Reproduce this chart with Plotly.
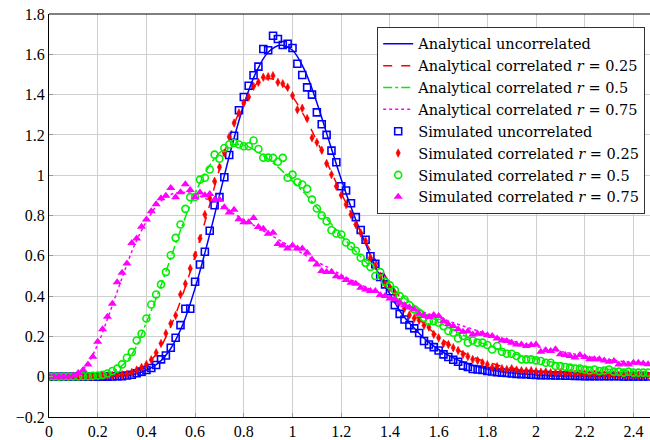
import plotly.graph_objects as go

# Analytical curves sampled every 0.05
AN_X = [0.00, 0.05, 0.10, 0.15, 0.20, 0.25, 0.30, 0.35, 0.40, 0.45,
        0.50, 0.55, 0.60, 0.65, 0.70, 0.75, 0.80, 0.85, 0.90, 0.95,
        1.00, 1.05, 1.10, 1.15, 1.20, 1.25, 1.30, 1.35, 1.40, 1.45,
        1.50, 1.55, 1.60, 1.65, 1.70, 1.75, 1.80, 1.85, 1.90, 1.95,
        2.00, 2.05, 2.10, 2.15, 2.20, 2.25, 2.30, 2.35, 2.40, 2.45]
AN_UNCORR = [0, 0, 0, 0, 0, 0.0005, 0.003, 0.012, 0.032, 0.068,
             0.14, 0.26, 0.44, 0.66, 0.90, 1.14, 1.35, 1.51, 1.61, 1.645,
             1.62, 1.52, 1.36, 1.17, 0.98, 0.81, 0.66, 0.52, 0.41, 0.31,
             0.24, 0.18, 0.135, 0.10, 0.073, 0.053, 0.038, 0.027, 0.019, 0.013,
             0.009, 0.006, 0.004, 0.003, 0.002, 0.0015, 0.001, 0.0007, 0.0005, 0.0003]
AN_R025 = [0, 0, 0, 0, 0.001, 0.004, 0.01, 0.025, 0.058, 0.13,
           0.25, 0.41, 0.60, 0.81, 1.03, 1.22, 1.36, 1.45, 1.48, 1.46,
           1.39, 1.29, 1.17, 1.04, 0.91, 0.79, 0.67, 0.56, 0.465, 0.38,
           0.31, 0.25, 0.20, 0.155, 0.12, 0.093, 0.072, 0.055, 0.043, 0.034,
           0.026, 0.021, 0.017, 0.013, 0.011, 0.009, 0.007, 0.0055, 0.0045, 0.0035]
AN_R050 = [0, 0, 0.0005, 0.002, 0.006, 0.02, 0.055, 0.13, 0.27, 0.42,
           0.59, 0.76, 0.91, 1.03, 1.11, 1.15, 1.15, 1.12, 1.08, 1.03,
           0.97, 0.91, 0.84, 0.77, 0.70, 0.635, 0.57, 0.51, 0.455, 0.40,
           0.355, 0.31, 0.272, 0.238, 0.207, 0.18, 0.156, 0.135, 0.117, 0.101,
           0.088, 0.076, 0.065, 0.056, 0.048, 0.042, 0.036, 0.031, 0.027, 0.023]
AN_R075 = [0, 0.0005, 0.008, 0.05, 0.16, 0.32, 0.49, 0.65, 0.77, 0.86,
           0.905, 0.915, 0.905, 0.88, 0.85, 0.815, 0.78, 0.745, 0.71, 0.675,
           0.64, 0.605, 0.57, 0.54, 0.505, 0.475, 0.445, 0.415, 0.39, 0.365,
           0.34, 0.315, 0.295, 0.272, 0.252, 0.232, 0.21, 0.194, 0.178, 0.163,
           0.15, 0.137, 0.125, 0.114, 0.103, 0.094, 0.085, 0.077, 0.07, 0.064]

# Simulated points every 0.02 (x = 0.00 ... 2.46)
SIM_X = [round(0.02 * i, 2) for i in range(124)]
SIM_UNCORR = [0, 0, 0, 0, 0, 0, 0, 0, 0, 0,
              0, 0, 0.0005, 0.001, 0.002, 0.003, 0.006, 0.01, 0.017, 0.025,
              0.033, 0.043, 0.058, 0.086, 0.105, 0.144, 0.193, 0.256, 0.337, 0.337,
              0.471, 0.557, 0.62, 0.724, 0.851, 0.891, 0.99, 1.10, 1.196, 1.322,
              1.388, 1.444, 1.496, 1.539, 1.626, 1.620, 1.692, 1.676, 1.646, 1.652,
              1.631, 1.553, 1.497, 1.436, 1.40, 1.312, 1.253, 1.20, 1.122, 1.064,
              0.945, 0.924, 0.861, 0.792, 0.728, 0.680, 0.598, 0.560, 0.495, 0.458,
              0.424, 0.355, 0.312, 0.284, 0.256, 0.24, 0.217, 0.177, 0.16, 0.147,
              0.13, 0.111, 0.098, 0.084, 0.074, 0.055, 0.048, 0.038, 0.036, 0.033,
              0.028, 0.026, 0.022, 0.02, 0.018, 0.016, 0.014, 0.013, 0.012, 0.01,
              0.009, 0.008, 0.008, 0.007, 0.006, 0.006, 0.005, 0.005, 0.004, 0.004,
              0.003, 0.003, 0.003, 0.002, 0.002, 0.002, 0.002, 0.002, 0.001, 0.001,
              0.001, 0.001, 0.001, 0.001]
SIM_R025 = [0, 0, 0, 0, 0, 0, 0, 0, 0, 0,
            0.002, 0.003, 0.004, 0.006, 0.008, 0.01, 0.013, 0.021, 0.033, 0.046,
            0.061, 0.084, 0.119, 0.165, 0.215, 0.264, 0.304, 0.408, 0.461, 0.537,
            0.603, 0.686, 0.805, 0.887, 0.970, 1.04, 1.11, 1.19, 1.259, 1.309,
            1.358, 1.388, 1.441, 1.461, 1.486, 1.489, 1.494, 1.461, 1.454, 1.436,
            1.395, 1.325, 1.332, 1.281, 1.185, 1.163, 1.124, 1.058, 1.003, 0.945,
            0.901, 0.854, 0.805, 0.755, 0.714, 0.674, 0.59, 0.55, 0.50, 0.46,
            0.44, 0.41, 0.37, 0.34, 0.306, 0.29, 0.28, 0.255, 0.246, 0.21,
            0.193, 0.165, 0.16, 0.144, 0.13, 0.111, 0.10, 0.086, 0.08, 0.069,
            0.06, 0.045, 0.05, 0.04, 0.036, 0.04, 0.033, 0.03, 0.028, 0.03,
            0.025, 0.022, 0.024, 0.02, 0.018, 0.02, 0.015, 0.016, 0.013, 0.015,
            0.012, 0.01, 0.012, 0.009, 0.01, 0.008, 0.009, 0.007, 0.006, 0.008,
            0.005, 0.006, 0.004, 0.005]
SIM_R050 = [0, 0.001, 0, 0.001, 0.001, 0.001, 0.001, 0.002, 0.002, 0.004,
            0.006, 0.01, 0.016, 0.028, 0.04, 0.061, 0.094, 0.122, 0.18, 0.213,
            0.289, 0.358, 0.408, 0.458, 0.519, 0.603, 0.689, 0.755, 0.833, 0.891,
            0.892, 0.978, 0.987, 1.028, 1.102, 1.082, 1.135, 1.152, 1.16, 1.152,
            1.144, 1.144, 1.172, 1.13, 1.087, 1.087, 1.086, 1.067, 1.086, 0.987,
            1.003, 0.965, 0.954, 0.932, 0.879, 0.835, 0.80, 0.772, 0.727, 0.711,
            0.706, 0.666, 0.648, 0.625, 0.59, 0.565, 0.545, 0.50, 0.519, 0.471,
            0.453, 0.43, 0.40, 0.383, 0.355, 0.334, 0.317, 0.292, 0.276, 0.276,
            0.268, 0.251, 0.227, 0.218, 0.19, 0.202, 0.169, 0.18, 0.169, 0.169,
            0.157, 0.135, 0.152, 0.124, 0.114, 0.114, 0.103, 0.086, 0.086, 0.086,
            0.081, 0.078, 0.069, 0.069, 0.053, 0.053, 0.048, 0.045, 0.041, 0.041,
            0.036, 0.031, 0.036, 0.028, 0.031, 0.036, 0.025, 0.025, 0.02, 0.025,
            0.02, 0.02, 0.02, 0.02]
SIM_R075 = [0.001, 0.001, 0.001, 0.001, 0.001, 0.006, 0.018, 0.033, 0.06, 0.099,
            0.174, 0.235, 0.297, 0.362, 0.469, 0.516, 0.562, 0.664, 0.686, 0.744,
            0.78, 0.821, 0.856, 0.886, 0.898, 0.936, 0.89, 0.916, 0.955, 0.926,
            0.89, 0.914, 0.90, 0.907, 0.878, 0.879, 0.841, 0.815, 0.829, 0.782,
            0.766, 0.766, 0.788, 0.743, 0.734, 0.709, 0.714, 0.659, 0.651, 0.636,
            0.651, 0.636, 0.636, 0.615, 0.582, 0.557, 0.524, 0.52, 0.52, 0.499,
            0.494, 0.48, 0.466, 0.461, 0.441, 0.433, 0.425, 0.425, 0.405, 0.40,
            0.388, 0.383, 0.367, 0.355, 0.345, 0.334, 0.312, 0.301, 0.296, 0.306,
            0.301, 0.276, 0.26, 0.251, 0.235, 0.223, 0.226, 0.21, 0.213, 0.213,
            0.206, 0.202, 0.19, 0.18, 0.177, 0.169, 0.16, 0.16, 0.152, 0.157,
            0.16, 0.124, 0.131, 0.128, 0.136, 0.111, 0.108, 0.103, 0.095, 0.108,
            0.098, 0.086, 0.086, 0.086, 0.081, 0.074, 0.078, 0.061, 0.064, 0.061,
            0.069, 0.069, 0.065, 0.062]

NAMES = ["Analytical uncorrelated",
         "Analytical correlated <i>r</i> = 0.25",
         "Analytical correlated <i>r</i> = 0.5",
         "Analytical correlated <i>r</i> = 0.75",
         "Simulated uncorrelated",
         "Simulated correlated <i>r</i> = 0.25",
         "Simulated correlated <i>r</i> = 0.5",
         "Simulated correlated <i>r</i> = 0.75"]

BLUE = "#0000ff"
RED = "#ff0000"
GREEN = "#00ee00"
MAGENTA = "#ff00ff"

fig = go.Figure()
for y, col, dash, name in [(AN_UNCORR, BLUE, "solid", NAMES[0]),
                           (AN_R025, RED, "dash", NAMES[1]),
                           (AN_R050, GREEN, "dashdot", NAMES[2]),
                           (AN_R075, MAGENTA, "dot", NAMES[3])]:
    fig.add_trace(go.Scatter(x=AN_X, y=y, mode="lines", name=name,
                             line=dict(color=col, width=1.5, dash=dash, shape="spline")))

marker_specs = [
    (SIM_UNCORR, dict(symbol="square-open", size=7, color=BLUE, line=dict(width=1.6, color=BLUE)), NAMES[4]),
    (SIM_R025, dict(symbol="diamond-tall", size=6, color=RED, line=dict(width=0.6, color=RED)), NAMES[5]),
    (SIM_R050, dict(symbol="circle-open", size=7, color=GREEN, line=dict(width=1.6, color=GREEN)), NAMES[6]),
    (SIM_R075, dict(symbol="triangle-up", size=8, color=MAGENTA, line=dict(width=0, color=MAGENTA)), NAMES[7]),
]
for y, mk, name in marker_specs:
    fig.add_trace(go.Scatter(x=SIM_X, y=y, mode="markers", name=name, marker=mk))

FONT = "Liberation Serif"
fig.update_layout(
    width=650, height=440,
    margin=dict(l=49, r=0, t=14, b=21),
    plot_bgcolor="white", paper_bgcolor="white",
    font=dict(family=FONT, size=16, color="black"),
    showlegend=True,
    legend=dict(x=0.992, y=0.968, xanchor="right", yanchor="top",
                bgcolor="white", bordercolor="#333333", borderwidth=1,
                font=dict(family="DejaVu Serif", size=14.5), tracegroupgap=0,
                itemwidth=30),
    xaxis=dict(range=[0, 2.468], tickvals=[0, 0.2, 0.4, 0.6, 0.8, 1, 1.2, 1.4, 1.6, 1.8, 2, 2.2, 2.4],
               ticktext=["0", "0.2", "0.4", "0.6", "0.8", "1", "1.2", "1.4", "1.6", "1.8", "2", "2.2", "2.4"],
               showgrid=True, gridcolor="#cfcfcf", gridwidth=1, zeroline=False,
               showline=True, linecolor="black", linewidth=1.2,
               ticks="inside", ticklen=4, tickcolor="#999999"),
    yaxis=dict(range=[-0.2, 1.8], tickvals=[-0.2, 0, 0.2, 0.4, 0.6, 0.8, 1, 1.2, 1.4, 1.6, 1.8],
               ticktext=["\u22120.2", "0", "0.2", "0.4", "0.6", "0.8", "1", "1.2", "1.4", "1.6", "1.8"],
               showgrid=True, gridcolor="#cfcfcf", gridwidth=1, zeroline=False,
               showline=True, linecolor="black", linewidth=1.2,
               ticks="inside", ticklen=4, tickcolor="#999999"),
)
fig.add_shape(type="line", xref="paper", yref="paper", x0=0, x1=1, y0=1, y1=1,
              line=dict(color="black", width=1.2))

fig.write_html("out.html")
